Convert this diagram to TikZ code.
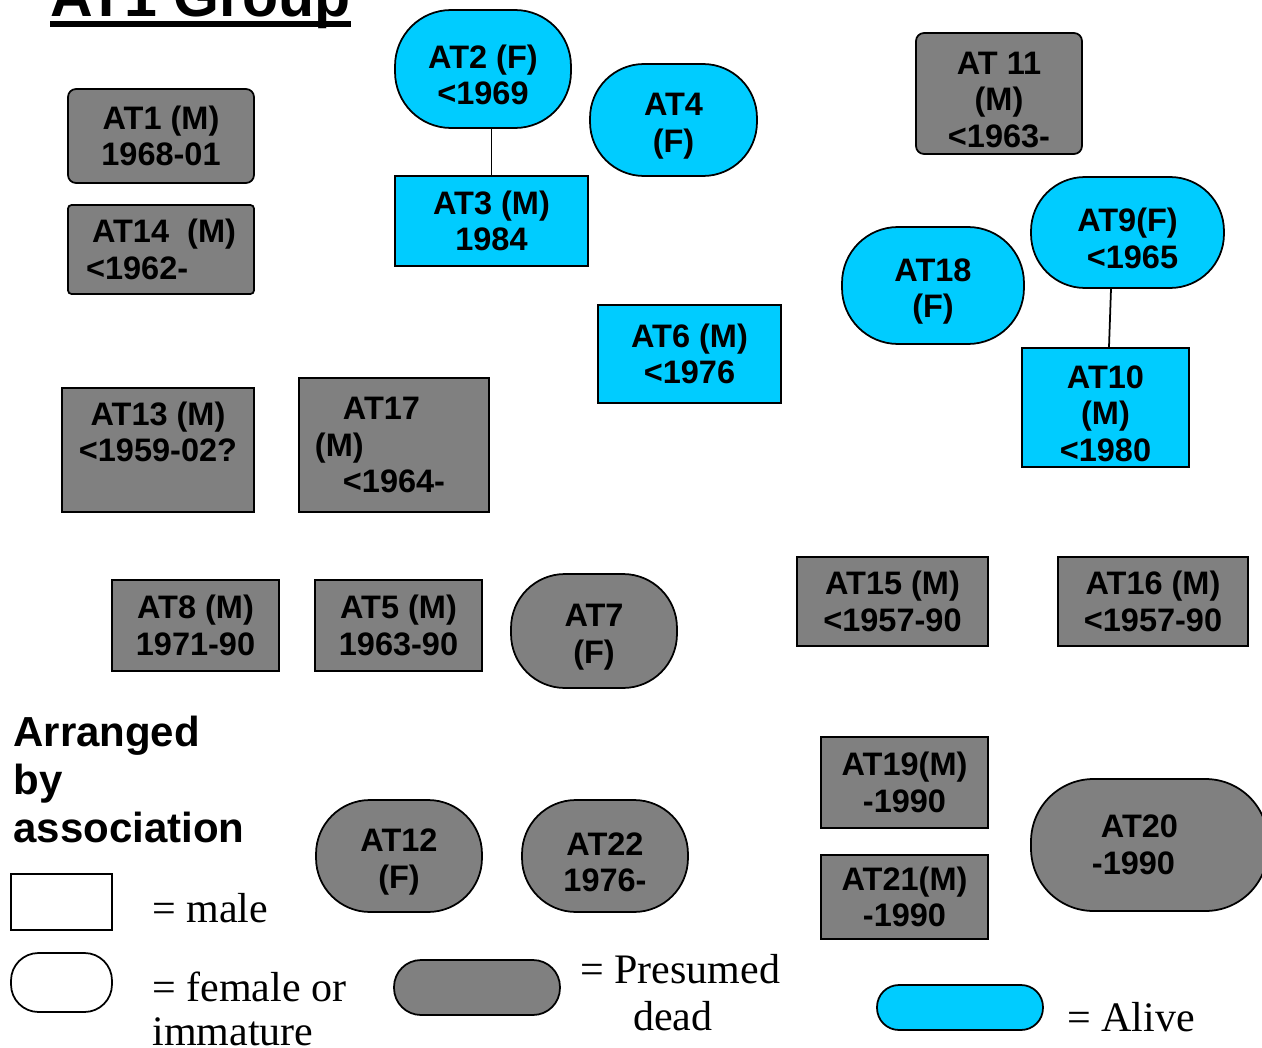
\documentclass[tikz,border=0pt]{standalone}
\usepackage{fontspec}
\setmainfont{Liberation Serif}
\setsansfont{Liberation Sans}
\usetikzlibrary{positioning}
\definecolor{deadgray}{HTML}{808080}
\definecolor{alivecyan}{HTML}{00CCFF}
\newcommand{\lowstrut}{\rule{0pt}{20pt}}

\begin{document}
\begin{tikzpicture}[x=0.02cm, y=-0.02cm,
    animal/.style={draw=black, line width=1pt, align=center, inner sep=0pt,
      font=\sffamily\bfseries\fontsize{18.5}{20.8}\selectfont},
    dead/.style={animal, fill=deadgray},
    alive/.style={animal, fill=alivecyan},
    female/.style={rounded corners=1.08cm},
    keytext/.style={inner sep=0pt, align=left, font=\rmfamily\fontsize{23.9}{25}\selectfont}]
    \useasboundingbox (0,0) rectangle (1262,1048);
    \clip (0,0) rectangle (1262,1048);

    % title
    \node[anchor=base west, inner sep=0pt, font=\sffamily\bfseries\fontsize{33.6}{40}\selectfont] (title) at (50,16) {AT1 Group};
    \draw[line width=3.4pt] ([yshift=-0.16cm]title.base west) -- ([yshift=-0.16cm]title.base east);

    % presumed dead, male
    \node[dead, rounded corners=0.16cm, minimum width=3.72cm, minimum height=1.88cm] (AT1) at (161,136) {AT1 (M)\\1968-01};
    \node[dead, rounded corners=0.16cm, minimum width=3.32cm, minimum height=2.42cm] (AT11) at (999,93.5) {\lowstrut AT 11\\(M)\\<1963-};
    \node[dead, rounded corners=2pt, align=left, minimum width=3.72cm, minimum height=1.78cm] (AT14) at (161,249.5) {\hspace*{0.12cm}AT14~~(M)\\<1962-};
    \node[dead, minimum width=3.84cm, minimum height=2.48cm] (AT13) at (158,450) {AT13 (M)\\<1959-02?\\\mbox{}};
    \node[dead, align=left, minimum width=3.8cm, minimum height=2.68cm] (AT17) at (394,445) {\hspace*{0.56cm}AT17\\(M)\\\hspace*{0.56cm}<1964-\hspace*{0.56cm}};
    \foreach \n/\x/\y/\w/\h/\t in {
        AT8/195.5/625.5/3.34/1.82/{AT8 (M)\\1971-90},
        AT5/398.5/625.5/3.34/1.82/{AT5 (M)\\1963-90},
        AT15/892.5/601.5/3.82/1.78/{AT15 (M)\\<1957-90},
        AT16/1153/601.5/3.8/1.78/{AT16 (M)\\<1957-90},
        AT19/904.5/782.5/3.34/1.82/{AT19(M)\\-1990},
        AT21/904.5/897/3.34/1.68/{AT21(M)\\-1990}} {
      \node[dead, minimum width=\w cm, minimum height=\h cm] (\n) at (\x,\y) {\t};
    }

    % presumed dead, female or immature
    \node[dead, female, minimum width=3.32cm, minimum height=2.28cm] (AT7) at (594,631) {\lowstrut AT7\\(F)};
    \node[dead, female, minimum width=3.32cm, minimum height=2.24cm] (AT12) at (399,856) {\lowstrut AT12\\(F)};
    \node[dead, female, minimum width=3.32cm, minimum height=2.24cm] (AT22) at (605,856) {\lowstrut AT22\\1976-};
    \node[dead, female, rounded corners=1.25cm, minimum width=4.74cm, minimum height=2.64cm] (AT20) at (1149.5,845) {AT20\hspace*{0.4cm}\\-1990\hspace*{0.64cm}};

    % alive
    \node[alive, female, rounded corners=1.12cm, minimum width=3.52cm, minimum height=2.36cm] (AT2) at (483,69) {\lowstrut AT2 (F)\\<1969};
    \node[alive, female, minimum width=3.34cm, minimum height=2.24cm] (AT4) at (673.5,120) {\lowstrut AT4\\(F)};
    \node[alive, minimum width=3.86cm, minimum height=1.8cm] (AT3) at (491.5,221) {AT3 (M)\\1984};
    \node[alive, minimum width=3.66cm, minimum height=1.96cm] (AT6) at (689.5,354) {AT6 (M)\\<1976};
    \node[alive, female, rounded corners=1.12cm, minimum width=3.64cm, minimum height=2.34cm] (AT18) at (933,285.5) {\lowstrut AT18\\(F)};
    \node[alive, female, minimum width=3.86cm, minimum height=2.22cm] (AT9) at (1127.5,232.5) {\lowstrut AT9(F)\\\hspace*{0.2cm}<1965};
    \node[alive, minimum width=3.34cm, minimum height=2.38cm] (AT10) at (1105.5,407.5) {\lowstrut AT10\\(M)\\<1980};

    \draw[line width=1pt] (AT3.north) -- (AT3.north |- AT2.south);
    \draw[line width=1pt] ([xshift=-0.33cm]AT9.south) -- ([xshift=0.07cm]AT10.north);

    % key
    \node[anchor=north west, inner sep=0pt, align=left, font=\sffamily\bfseries\fontsize{23.9}{27.3}\selectfont] (arranged) at (13,716) {Arranged\\by\\association};
    \node[draw, line width=1pt, minimum width=2.02cm, minimum height=1.12cm] (malekey) at (61.5,902) {};
    \node[keytext, anchor=base west] (maletext) at (152,922) {= male};
    \node[draw, line width=1pt, rounded corners=0.55cm, minimum width=2.02cm, minimum height=1.18cm] (femalekey) at (61.5,982.5) {};
    \node[keytext, anchor=base west] (femaletext) at (152,1045) {= female or\\immature};
    \node[dead, rounded corners=0.54cm, minimum width=3.32cm, minimum height=1.1cm] (deadkey) at (477,987.5) {};
    \node[keytext, anchor=base west, font=\rmfamily\fontsize{23.9}{26.2}\selectfont] (deadtext) at (580,1030) {= Presumed\\\hspace*{1.06cm}dead};
    \node[alive, rounded corners=0.44cm, minimum width=3.32cm, minimum height=0.9cm] (alivekey) at (960,1007.5) {};
    \node[keytext, anchor=base west] (alivetext) at (1067,1031) {= Alive};
\end{tikzpicture}
\end{document}
